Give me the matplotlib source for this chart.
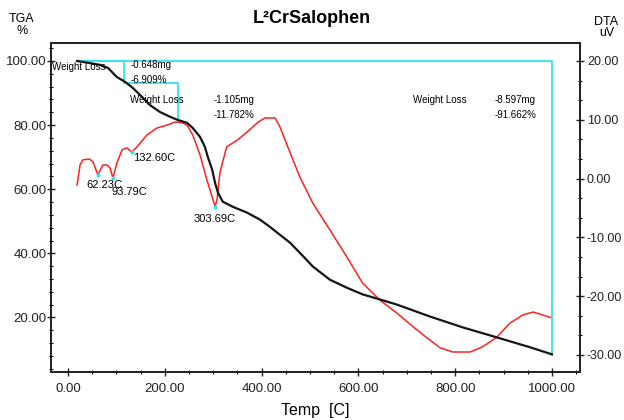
import matplotlib.pyplot as plt
from matplotlib.ticker import MultipleLocator, AutoMinorLocator, FormatStrFormatter

plt.rcParams['font.family'] = ['Liberation Sans', 'DejaVu Sans']

# TGA curve (black), temp in C, weight %
tga_temp = [19, 66, 83, 101, 118, 134, 155, 169, 190, 211, 227, 246, 258, 273, 283, 289,
            298, 304, 310, 320, 341, 370, 397, 417, 438, 459, 479, 506, 541, 576, 609, 645,
            680, 748, 816, 886, 955, 1000]
tga_val = [100.0, 98.8, 97.8, 95.0, 93.5, 91.6, 88.5, 86.3, 84.1, 82.6, 81.6, 80.7, 79.1, 76.3,
           73.2, 70.1, 66.1, 62.0, 58.9, 56.1, 54.5, 52.7, 50.5, 48.3, 45.8, 43.3, 40.2, 35.9,
           31.8, 29.3, 27.2, 25.6, 24.0, 20.3, 16.9, 13.8, 10.7, 8.5]

# DTA curve (red), uV
dta_temp = [19, 25, 31, 45, 52, 62, 72, 81, 87, 93, 101, 112, 122, 132, 143, 163, 184, 205,
            221, 236, 246, 258, 273, 287, 298, 304, 308, 314, 328, 351, 370, 393, 407, 428,
            438, 459, 479, 506, 541, 576, 609, 645, 680, 713, 742, 769, 795, 831, 857, 886,
            913, 940, 961, 981, 1000]
dta_val = [-1.1, 2.3, 3.2, 3.3, 2.8, 0.6, 2.3, 2.3, 1.8, 0.1, 2.6, 4.9, 5.2, 4.5, 5.4, 7.4,
           8.6, 9.1, 9.6, 9.5, 9.1, 7.4, 4.0, -0.2, -3.1, -4.8, -3.6, 1.0, 5.4, 6.6, 7.9, 9.6,
           10.3, 10.3, 8.8, 4.4, 0.3, -4.2, -8.7, -13.3, -17.8, -20.7, -22.9, -25.2, -27.1,
           -28.8, -29.5, -29.5, -28.6, -27.0, -24.6, -23.2, -22.7, -23.2, -23.7]

# DTA peaks
peak_temp = [62.23, 93.79, 132.60, 303.69]
peak_val = [0.6, 0.1, 4.5, -4.8]
peak_labels = ["62.23C", "93.79C", "132.60C", "303.69C"]

# weight loss steps: start temp, end temp, start %, loss %
loss_start = [19, 116, 19]
loss_end = [116, 227, 1000]
loss_top = [100.0, 93.091, 100.0]
loss_pct = [6.909, 11.782, 91.662]
loss_mg = [0.648, 1.105, 8.597]

fig = plt.figure(figsize=(6.24, 4.2), dpi=100)
ax = fig.add_axes([0.0817, 0.1143, 0.8478, 0.7833])
ax2 = ax.twinx()

for i in range(3):
    bottom = loss_top[i] - loss_pct[i]
    ax.plot([loss_start[i], loss_end[i], loss_end[i]], [loss_top[i], loss_top[i], bottom],
            color='#33e6ee', lw=1.3, zorder=2)

ax2.plot(dta_temp, dta_val, color='#ff2020', lw=1.1)
ax2.plot(peak_temp, peak_val, 'o', color='#33e6ee', ms=2)
ax.plot(tga_temp, tga_val, color='#151515', lw=1.6, zorder=3)
ax.set_zorder(ax2.get_zorder() + 1)
ax.patch.set_visible(False)

ax.set_xlim(-35, 1058)
ax.set_ylim(3.0, 105.6)
ax2.set_ylim(-32.9, 23.05)

ax.xaxis.set_major_locator(MultipleLocator(200))
ax.xaxis.set_minor_locator(AutoMinorLocator(4))
ax.yaxis.set_major_locator(MultipleLocator(20))
ax.yaxis.set_minor_locator(AutoMinorLocator(5))
ax2.yaxis.set_major_locator(MultipleLocator(10))
ax2.yaxis.set_minor_locator(AutoMinorLocator(3))
ax.xaxis.set_major_formatter(FormatStrFormatter('%.2f'))
ax.yaxis.set_major_formatter(FormatStrFormatter('%.2f'))
ax2.yaxis.set_major_formatter(FormatStrFormatter('%.2f'))

for a in (ax, ax2):
    a.tick_params(which='major', direction='inout', length=6, width=1, labelsize=9.5, colors='#222222')
    a.tick_params(which='minor', direction='inout', length=3, width=0.8)
    for s in a.spines.values():
        s.set_linewidth(1.3)
        s.set_color('#222222')
ax.tick_params(axis='y', pad=0)
ax2.tick_params(axis='y', pad=2, labelsize=9)
ax.tick_params(axis='x', pad=5)

ax.set_xlabel("Temp  [C]", fontsize=11.5, labelpad=6)
fig.text(0.5, 0.955, "L²CrSalophen", ha='center', va='center', fontsize=13, fontweight='bold')
fig.text(0.035, 0.94, "TGA\n%", ha='center', va='center', fontsize=9, linespacing=0.95)
fig.text(0.972, 0.935, "DTA\nuV", ha='center', va='center', fontsize=9, linespacing=0.95)

fs = 7
# weight loss texts
wl_x = [-33, 128, 713]
wl_y = [98.1, 87.9, 87.9]
val_x = [130, 300, 882]
val_y = [98.8, 87.9, 87.9]
for i in range(3):
    ax.text(wl_x[i], wl_y[i], "Weight Loss", fontsize=fs, va='center')
    ax.text(val_x[i], val_y[i], "-%.3fmg" % loss_mg[i], fontsize=fs, va='center')
    ax.text(val_x[i], val_y[i] - 4.8, "-%.3f%%" % loss_pct[i], fontsize=fs, va='center')

lab_x = [39, 91, 134, 260]
lab_y = [61.4, 59.2, 69.8, 50.8]
for i in range(4):
    ax.text(lab_x[i], lab_y[i], peak_labels[i], fontsize=8, va='center')

fig.savefig("out.png", dpi=100)
